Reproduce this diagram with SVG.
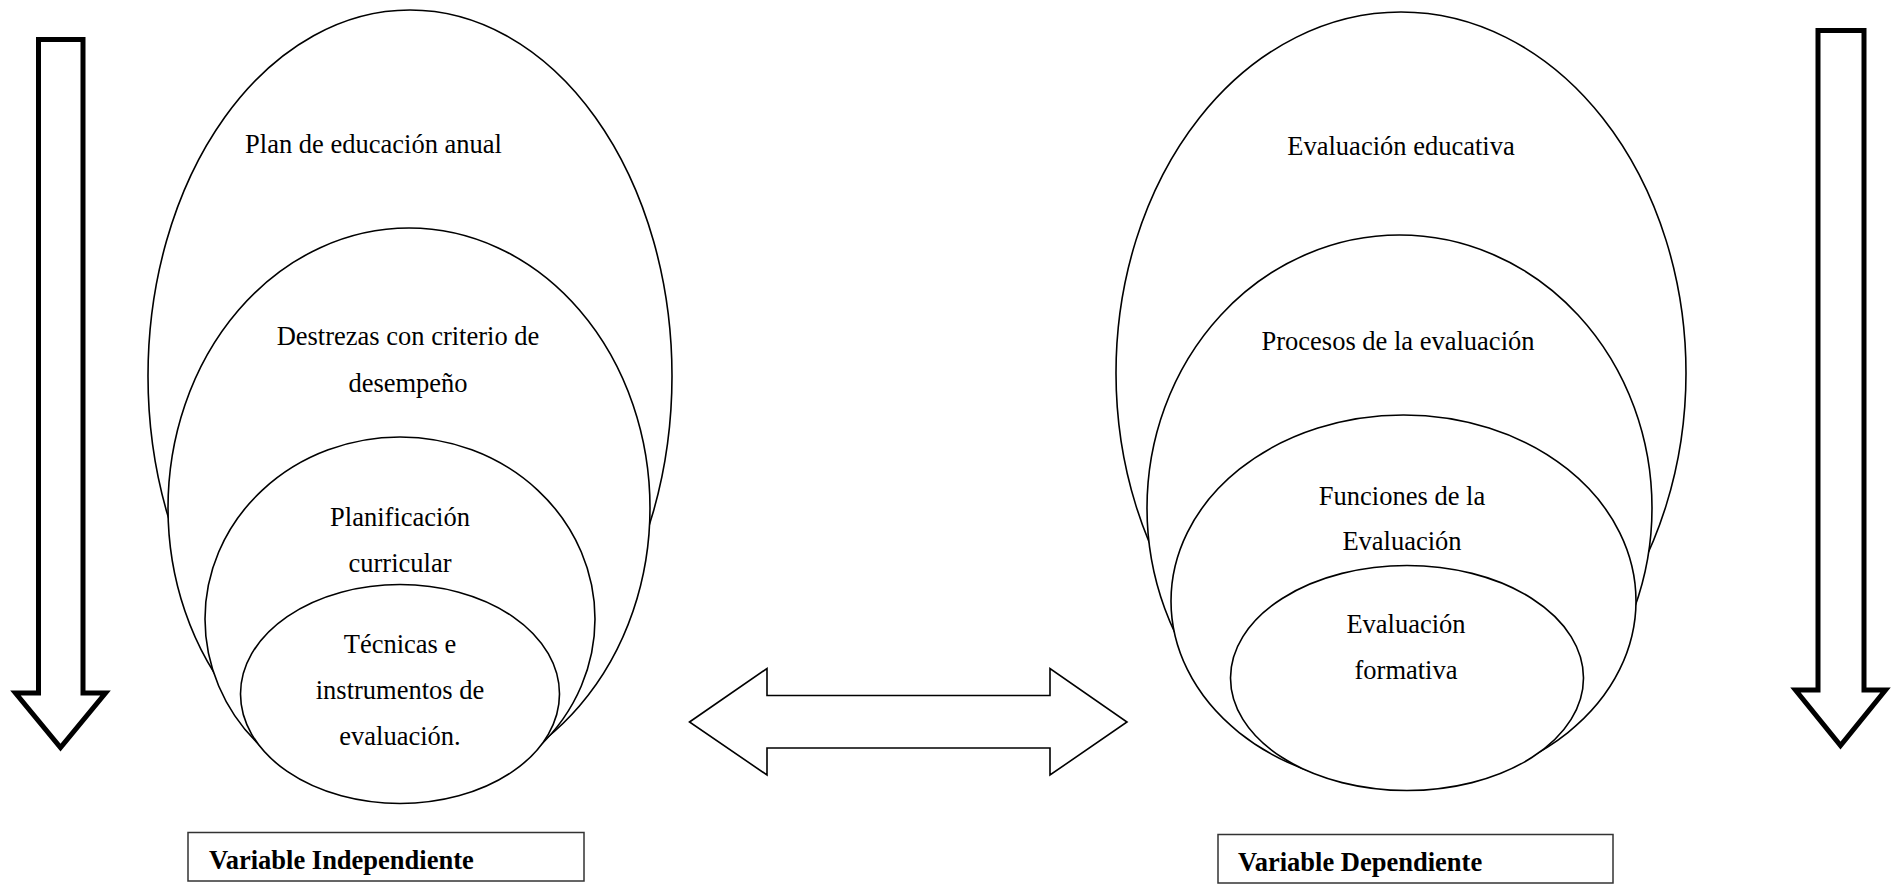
<svg xmlns="http://www.w3.org/2000/svg" width="1903" height="884" viewBox="0 0 1903 884">
<style>
.ell{fill:#fff;stroke:#000;stroke-width:1.6}
.t{font-family:'Liberation Serif',serif;font-size:26.5px;fill:#000;text-anchor:middle}
.b{font-family:'Liberation Serif',serif;font-size:26.5px;font-weight:bold;fill:#000}
.box{fill:#fff;stroke:#333;stroke-width:1.5}
.big{fill:#fff;stroke:#000;stroke-width:5;stroke-linejoin:miter}
.dbl{fill:#fff;stroke:#000;stroke-width:1.6}
</style>
<rect width="1903" height="884" fill="#fff"/>
<g id="connectors">
<polygon id="arrow-left-down" class="big" points="38.5,39.5 83,39.5 83,693 105.5,693 60.5,747.5 15.5,693 38.5,693"/>
<polygon id="arrow-right-down" class="big" points="1818,30.5 1864,30.5 1864,690 1885.5,690 1840.5,745.5 1795.5,690 1818,690"/>
<polygon id="arrow-double" class="dbl" points="689.5,722 767,668.5 767,695.5 1050,695.5 1050,668.5 1127,722 1050,775 1050,748 767,748 767,775"/>
</g>
<g id="left-e1"><ellipse class="ell" cx="410" cy="376" rx="262" ry="366"/><text class="t" x="373.5" y="153">Plan de educación anual</text></g>
<g id="left-e2"><ellipse class="ell" cx="409" cy="508" rx="241" ry="280"/><text class="t" x="408" y="345">Destrezas con criterio de</text><text class="t" x="408" y="392">desempeño</text></g>
<g id="left-e3"><ellipse class="ell" cx="400" cy="619" rx="195" ry="182"/><text class="t" x="400" y="525.5">Planificación</text><text class="t" x="400" y="572">curricular</text></g>
<g id="left-e4"><ellipse class="ell" cx="400" cy="694" rx="159.5" ry="109.5"/><text class="t" x="400" y="653">Técnicas e</text><text class="t" x="400" y="699">instrumentos de</text><text class="t" x="400" y="745">evaluación.</text></g>
<g id="right-e1"><ellipse class="ell" cx="1401" cy="373" rx="285" ry="361"/><text class="t" x="1401" y="155">Evaluación educativa</text></g>
<g id="right-e2"><ellipse class="ell" cx="1399.5" cy="508" rx="252.5" ry="273"/><text class="t" x="1398" y="350">Procesos de la evaluación</text></g>
<g id="right-e3"><ellipse class="ell" cx="1403.5" cy="601" rx="232.5" ry="186"/><text class="t" x="1402" y="504.5">Funciones de la</text><text class="t" x="1402" y="550">Evaluación</text></g>
<g id="right-e4"><ellipse class="ell" cx="1407" cy="678" rx="176.5" ry="112.5"/><text class="t" x="1406" y="633">Evaluación</text><text class="t" x="1406" y="679">formativa</text></g>
<g id="label-independiente"><rect class="box" x="188" y="832.5" width="396" height="48.5"/><text class="b" x="209" y="869">Variable Independiente</text></g>
<g id="label-dependiente"><rect class="box" x="1218" y="834.5" width="395" height="48.5"/><text class="b" x="1238" y="871">Variable Dependiente</text></g>
</svg>
